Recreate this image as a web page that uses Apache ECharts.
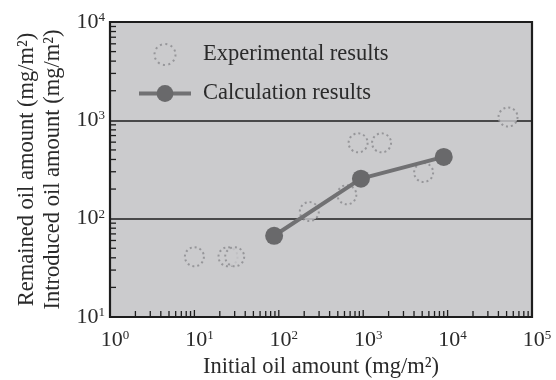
<!DOCTYPE html>
<html>
<head>
<meta charset="utf-8">
<style>
  html, body { margin: 0; padding: 0; background: #ffffff; }
  #chart { width: 556px; height: 380px; }
</style>
<script src="https://cdn.jsdelivr.net/npm/echarts@6/dist/echarts.min.js"></script>
</head>
<body>
<div id="chart"></div>
<script>
// Measured oil amounts (mg/m²) versus initial oil amount (mg/m²)
const expInitial = [10, 25, 30, 230, 640, 870, 1650, 5200, 52000];
const expRemained = [41, 41, 41, 118, 175, 590, 590, 295, 1080];

// Model calculation
const calcInitial = [88, 940, 9000];
const calcRemained = [67, 255, 425];

// Axis ranges (powers of ten) and minor-tick multipliers
const xDecades = [0, 1, 2, 3, 4, 5];
const yDecades = [1, 2, 3, 4];
const minorSteps = [2, 3, 4, 5, 6, 7, 8, 9];

const FONT = '"Liberation Serif", "DejaVu Serif", serif';
const TEXT = '#2a2a2a';
const PLOT_BG = '#cbcbcd';
// ring of small dots: 12 dots around a 19px circle
const DOT_BORDER = { borderColor: '#88888c', borderWidth: 2, borderType: [2, 2.97], borderCap: 'butt' };

// tick positions along each log axis (inner ticks drawn by a custom series)
const xTicks = [];
xDecades.slice(0, -1).forEach(k => {
  const base = Math.pow(10, k);
  if (k > 0) xTicks.push([base, 1]);
  minorSteps.forEach(m => xTicks.push([m * base, 0]));
});
const yTicks = [];
yDecades.slice(0, -1).forEach(k => {
  const base = Math.pow(10, k);
  minorSteps.forEach(m => yTicks.push([m * base, 0]));
});

const supLabel = v => {
  const e = Math.round(Math.log10(v));
  return '{b|10}{s|' + e + '}';
};
const richSup = {
  b: { fontFamily: FONT, fontSize: 22, color: TEXT },
  s: { fontFamily: FONT, fontSize: 13, color: TEXT, verticalAlign: 'top', padding: [0, 0, 9, 0] }
};

const chart = echarts.init(document.getElementById('chart'), null, { renderer: 'canvas' });

chart.setOption({
  animation: false,
  backgroundColor: '#ffffff',
  grid: {
    left: 110, right: 24, top: 22, bottom: 63,
    outerBoundsMode: 'none',
    containLabel: false,
    show: true,
    backgroundColor: PLOT_BG,
    borderColor: '#1e1e1e',
    borderWidth: 2.2
  },
  legend: {
    orient: 'vertical',
    left: 132,
    top: 38,
    itemWidth: 52,
    itemHeight: 21,
    itemGap: 16,
    textStyle: { fontFamily: FONT, fontSize: 22.5, color: TEXT, padding: [0, 0, 0, 7] },
    data: [
      {
        name: 'Experimental results',
        icon: 'circle',
        itemStyle: Object.assign({ color: PLOT_BG }, DOT_BORDER, { borderType: [2, 3.5] })
      },
      {
        name: 'Calculation results',
        lineStyle: { width: 4 }
      }
    ]
  },
  xAxis: {
    type: 'log',
    logBase: 10,
    min: 1,
    max: 100000,
    name: 'Initial oil amount (mg/m²)',
    nameLocation: 'middle',
    nameGap: 35,
    nameTextStyle: { fontFamily: FONT, fontSize: 22.5, color: TEXT },
    axisLine: { show: false },
    axisTick: { show: false },
    splitLine: { show: false },
    axisLabel: { margin: 12, padding: [0, 0, 0, 10], formatter: supLabel, rich: richSup }
  },
  yAxis: {
    type: 'log',
    logBase: 10,
    min: 10,
    max: 10000,
    name: 'Remained oil amount (mg/m²)\nIntroduced oil amount (mg/m²)',
    nameLocation: 'middle',
    nameRotate: 90,
    nameGap: 44,
    nameTextStyle: { fontFamily: FONT, fontSize: 22.5, color: TEXT, lineHeight: 26 },
    axisLine: { show: false },
    axisTick: { show: false },
    splitLine: { show: true, lineStyle: { color: '#1e1e1e', width: 1.6 } },
    axisLabel: { margin: 5, formatter: supLabel, rich: richSup }
  },
  series: [
    {
      name: 'Experimental results',
      type: 'scatter',
      symbol: 'circle',
      symbolSize: 19,
      data: expInitial.map((x, i) => [x, expRemained[i]]),
      itemStyle: Object.assign({ color: PLOT_BG }, DOT_BORDER),
      z: 2
    },
    {
      name: 'Calculation results',
      type: 'line',
      symbol: 'circle',
      symbolSize: 18,
      data: calcInitial.map((x, i) => [x, calcRemained[i]]),
      lineStyle: { color: '#717173', width: 4 },
      itemStyle: { color: '#69696b' },
      z: 3
    },
    {
      // inner tick marks along the bottom edge
      type: 'custom',
      silent: true,
      legendHoverLink: false,
      data: xTicks,
      renderItem: (params, api) => {
        const p = api.coord([api.value(0), 10]);
        const len = api.value(1) ? 7 : 6;
        return {
          type: 'line',
          shape: { x1: p[0], y1: p[1], x2: p[0], y2: p[1] - len },
          style: { stroke: '#1e1e1e', lineWidth: 1.3 }
        };
      },
      z: 4
    },
    {
      // inner tick marks along the left edge
      type: 'custom',
      silent: true,
      legendHoverLink: false,
      data: yTicks,
      renderItem: (params, api) => {
        const p = api.coord([1, api.value(0)]);
        return {
          type: 'line',
          shape: { x1: p[0], y1: p[1], x2: p[0] + 6, y2: p[1] },
          style: { stroke: '#1e1e1e', lineWidth: 1.3 }
        };
      },
      encode: { x: -1, y: 0 },
      z: 4
    }
  ]
});
</script>
</body>
</html>
